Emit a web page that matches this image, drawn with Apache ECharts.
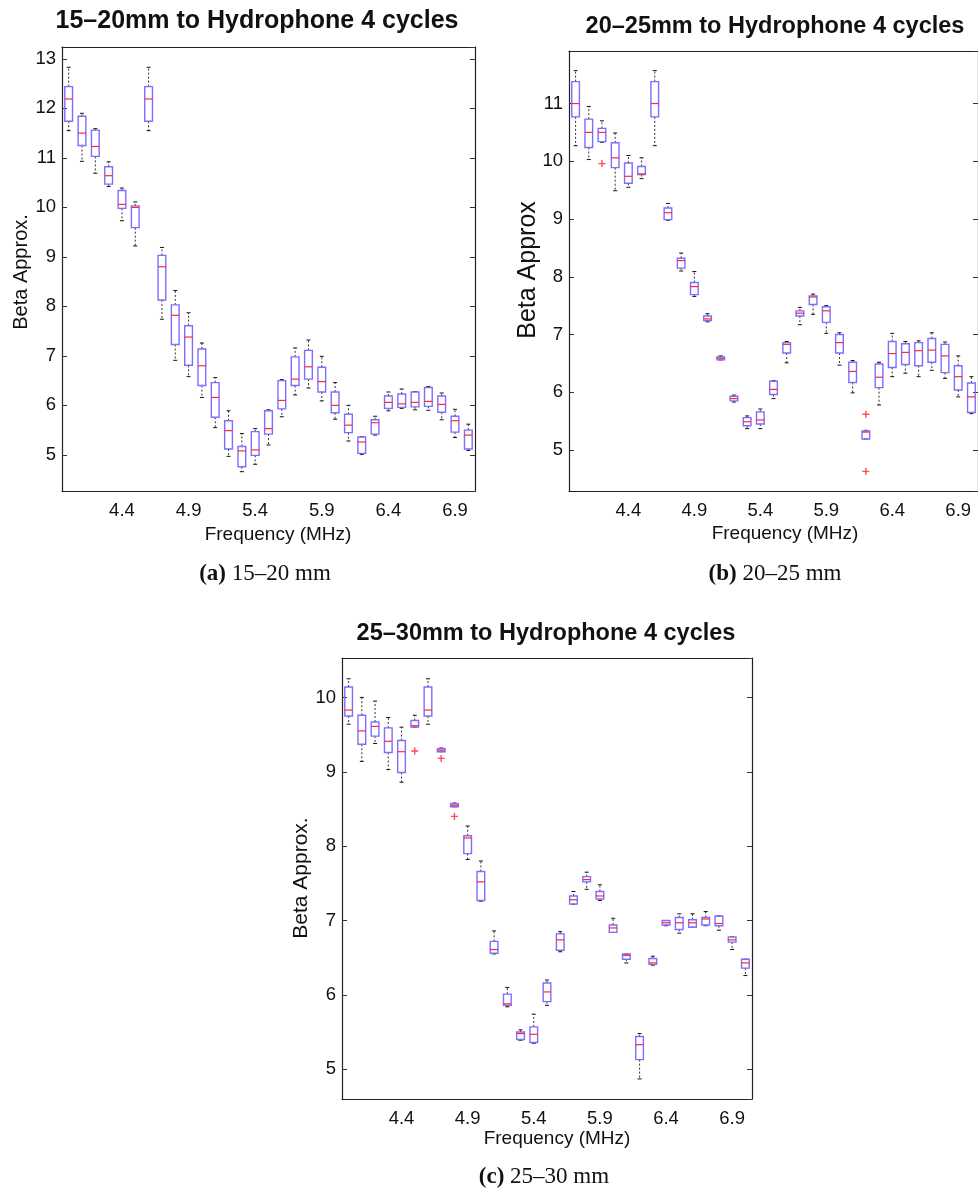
<!DOCTYPE html>
<html>
<head>
<meta charset="utf-8">
<script src="https://cdn.jsdelivr.net/npm/echarts@6/dist/echarts.min.js"></script>
<style>
  html, body { margin: 0; padding: 0; background: #fff; }
  #chart { width: 978px; height: 1189px; }
</style>
</head>
<body>
<div id="chart"></div>
<script>
const freqs = ['4.0', '4.1', '4.2', '4.3', '4.4', '4.5', '4.6', '4.7', '4.8', '4.9',
  '5.0', '5.1', '5.2', '5.3', '5.4', '5.5', '5.6', '5.7', '5.8', '5.9',
  '6.0', '6.1', '6.2', '6.3', '6.4', '6.5', '6.6', '6.7', '6.8', '6.9', '7.0']
const tickFreqs = ['4.4', '4.9', '5.4', '5.9', '6.4', '6.9']

// each box: [min, q1, median, q3, max]
const boxes15to20 = [
  [11.55, 11.74, 12.19, 12.44, 12.83], [10.93, 11.25, 11.50, 11.84, 11.90], [10.69, 11.03, 11.23, 11.56, 11.59],
  [10.42, 10.47, 10.64, 10.82, 10.92], [9.73, 9.98, 10.06, 10.34, 10.39], [9.22, 9.59, 10.00, 10.03, 10.11],
  [11.55, 11.74, 12.19, 12.44, 12.83], [7.74, 8.13, 8.80, 9.03, 9.19], [6.91, 7.23, 7.82, 8.03, 8.32],
  [6.58, 6.81, 7.38, 7.61, 7.87], [6.16, 6.40, 6.80, 7.14, 7.26], [5.55, 5.76, 6.16, 6.46, 6.56],
  [4.97, 5.12, 5.49, 5.69, 5.89], [4.66, 4.76, 5.08, 5.17, 5.43], [4.81, 4.99, 5.10, 5.47, 5.53],
  [5.20, 5.42, 5.53, 5.89, 5.91], [5.77, 5.93, 6.10, 6.50, 6.52], [6.21, 6.40, 6.53, 6.98, 7.16],
  [6.35, 6.53, 6.78, 7.11, 7.32], [6.09, 6.27, 6.48, 6.77, 6.99], [5.72, 5.85, 6.00, 6.27, 6.46],
  [5.28, 5.45, 5.60, 5.82, 6.00], [5.01, 5.03, 5.26, 5.36, 5.37], [5.40, 5.42, 5.65, 5.71, 5.78],
  [5.89, 5.94, 6.06, 6.19, 6.27], [5.94, 5.96, 6.03, 6.23, 6.33], [5.91, 5.97, 6.06, 6.27, 6.28],
  [5.90, 5.98, 6.08, 6.36, 6.38], [5.71, 5.86, 6.02, 6.19, 6.25], [5.35, 5.46, 5.69, 5.78, 5.92],
  [5.09, 5.12, 5.40, 5.50, 5.62]
]
const outliers15to20 = []

const boxes20to25 = [
  [10.27, 10.77, 11.00, 11.38, 11.57], [10.03, 10.24, 10.50, 10.73, 10.95], [10.33, 10.34, 10.50, 10.57, 10.70],
  [9.49, 9.89, 10.06, 10.32, 10.49], [9.55, 9.62, 9.74, 9.97, 10.10], [9.70, 9.77, 9.78, 9.91, 10.06],
  [10.27, 10.77, 11.00, 11.38, 11.57], [8.98, 8.99, 9.11, 9.19, 9.27], [8.10, 8.15, 8.28, 8.32, 8.41],
  [7.66, 7.69, 7.83, 7.90, 8.09], [7.22, 7.24, 7.27, 7.32, 7.36], [6.56, 6.56, 6.59, 6.61, 6.63],
  [5.83, 5.85, 5.89, 5.93, 5.95], [5.37, 5.42, 5.49, 5.56, 5.59], [5.37, 5.45, 5.52, 5.66, 5.71],
  [5.89, 5.96, 6.05, 6.19, 6.20], [6.51, 6.68, 6.83, 6.86, 6.88], [7.17, 7.32, 7.37, 7.41, 7.47],
  [7.35, 7.52, 7.65, 7.67, 7.70], [7.02, 7.21, 7.41, 7.48, 7.50], [6.47, 6.68, 6.86, 7.00, 7.03],
  [5.99, 6.17, 6.36, 6.52, 6.55], [5.19, 5.19, 5.31, 5.33, 5.34], [5.78, 6.08, 6.26, 6.49, 6.52],
  [6.27, 6.43, 6.67, 6.88, 7.02], [6.33, 6.48, 6.69, 6.84, 6.88], [6.27, 6.46, 6.72, 6.86, 6.89],
  [6.38, 6.52, 6.73, 6.93, 7.03], [6.24, 6.34, 6.63, 6.83, 6.87], [5.92, 6.04, 6.27, 6.46, 6.63],
  [5.63, 5.65, 5.92, 6.16, 6.27]
]
const outliers20to25 = [['4.2', 9.96], ['6.2', 5.62], ['6.2', 4.63]]

const boxes25to30 = [
  [9.64, 9.75, 9.83, 10.14, 10.25], [9.14, 9.37, 9.55, 9.76, 10.00], [9.38, 9.48, 9.61, 9.67, 9.95],
  [9.03, 9.26, 9.41, 9.59, 9.73], [8.86, 8.99, 9.27, 9.42, 9.60], [9.60, 9.60, 9.62, 9.69, 9.76],
  [9.64, 9.75, 9.83, 10.14, 10.25], [9.27, 9.27, 9.29, 9.31, 9.32], [8.53, 8.53, 8.55, 8.57, 8.58],
  [7.82, 7.90, 8.11, 8.14, 8.27], [7.26, 7.27, 7.52, 7.66, 7.80], [6.55, 6.56, 6.61, 6.72, 6.86],
  [5.84, 5.86, 5.88, 6.01, 6.10], [5.39, 5.40, 5.48, 5.50, 5.53], [5.35, 5.36, 5.47, 5.57, 5.74],
  [5.86, 5.91, 6.04, 6.16, 6.20], [6.58, 6.60, 6.74, 6.82, 6.85], [7.22, 7.22, 7.28, 7.33, 7.39],
  [7.42, 7.52, 7.55, 7.59, 7.65], [7.27, 7.29, 7.33, 7.39, 7.48], [6.84, 6.84, 6.90, 6.94, 7.03],
  [6.43, 6.48, 6.53, 6.55, 6.55], [4.87, 5.13, 5.33, 5.44, 5.48], [6.40, 6.41, 6.43, 6.49, 6.52],
  [6.93, 6.94, 6.97, 7.00, 7.00], [6.83, 6.88, 6.97, 7.04, 7.09], [6.91, 6.91, 6.97, 7.01, 7.09],
  [6.93, 6.94, 7.02, 7.04, 7.12], [6.87, 6.93, 6.96, 7.06, 7.06], [6.61, 6.71, 6.74, 6.78, 6.78],
  [6.26, 6.36, 6.43, 6.48, 6.48]
]
const outliers25to30 = [['4.5', 9.28], ['4.7', 9.18], ['4.8', 8.40]]

const sans = 'Liberation Sans'
const serif = 'Liberation Serif'

const panels = [
  { boxes: boxes15to20, outliers: outliers15to20, grid: { left: 62, top: 47, width: 413, height: 444 }, yMin: 4.27, yMax: 13.24, split: 9 },
  { boxes: boxes20to25, outliers: outliers20to25, grid: { left: 569, top: 51, width: 410, height: 440 }, yMin: 4.29, yMax: 11.91, split: 8 },
  { boxes: boxes25to30, outliers: outliers25to30, grid: { left: 342, top: 658, width: 410, height: 441 }, yMin: 4.6, yMax: 10.53, split: 6 }
]

const showTick = (idx, value) => tickFreqs.indexOf(value) >= 0
const frameLine = { lineStyle: { color: '#222', width: 1.2 } }
const innerTick = { inside: true, length: 5, lineStyle: { color: '#333' } }

function renderBox (params, api) {
  const i = api.value(0)
  const lo = api.coord([i, api.value(1)])
  const q1 = api.coord([i, api.value(2)])
  const med = api.coord([i, api.value(3)])
  const q3 = api.coord([i, api.value(4)])
  const hi = api.coord([i, api.value(5)])
  const half = api.size([1, 0])[0] * 0.29
  const x = lo[0]
  const dashed = { stroke: '#333', lineWidth: 1, lineDash: [2, 2] }
  const cap = { stroke: '#111', lineWidth: 1 }
  return {
    type: 'group',
    children: [
      { type: 'line', shape: { x1: x, y1: q3[1], x2: x, y2: hi[1] }, style: dashed },
      { type: 'line', shape: { x1: x, y1: q1[1], x2: x, y2: lo[1] }, style: dashed },
      { type: 'line', shape: { x1: x - 2, y1: hi[1], x2: x + 2, y2: hi[1] }, style: cap },
      { type: 'line', shape: { x1: x - 2, y1: lo[1], x2: x + 2, y2: lo[1] }, style: cap },
      {
        type: 'rect',
        shape: { x: x - half, y: q3[1], width: half * 2, height: Math.max(q1[1] - q3[1], 1) },
        style: { fill: 'none', stroke: '#7f6dff', lineWidth: 1.4 }
      },
      { type: 'line', shape: { x1: x - half, y1: med[1], x2: x + half, y2: med[1] }, style: { stroke: '#ff2b2b', lineWidth: 1.2 } }
    ]
  }
}

const grid = []
const xAxis = []
const yAxis = []
const series = []

panels.forEach((p, gi) => {
  grid.push(Object.assign({ containLabel: false }, p.grid))
  const xBase = {
    gridIndex: gi,
    type: 'category',
    data: freqs,
    boundaryGap: true,
    axisLine: frameLine,
    axisTick: Object.assign({ alignWithLabel: true, interval: showTick }, innerTick),
    splitLine: { show: false }
  }
  xAxis.push(Object.assign({}, xBase, {
    position: 'bottom',
    axisLabel: { interval: showTick, color: '#111', fontSize: 18.5, fontFamily: sans, margin: 10 }
  }))
  xAxis.push(Object.assign({}, xBase, { position: 'top', axisLabel: { show: false } }))
  const yBase = {
    gridIndex: gi,
    type: 'value',
    min: p.yMin,
    max: p.yMax,
    splitNumber: p.split,
    axisLine: Object.assign({ show: true }, frameLine),
    axisTick: Object.assign({ show: true }, innerTick),
    splitLine: { show: false }
  }
  yAxis.push(Object.assign({}, yBase, {
    position: 'left',
    axisLabel: { color: '#111', fontSize: 18.5, fontFamily: sans, margin: 6, showMinLabel: false, showMaxLabel: false }
  }))
  yAxis.push(Object.assign({}, yBase, { position: 'right', axisLabel: { show: false } }))

  series.push({
    type: 'custom',
    xAxisIndex: gi * 2,
    yAxisIndex: gi * 2,
    renderItem: renderBox,
    encode: { x: 0, y: [1, 2, 3, 4, 5] },
    data: p.boxes.map((b, i) => [i].concat(b)),
    silent: true
  })
  series.push({
    type: 'scatter',
    xAxisIndex: gi * 2,
    yAxisIndex: gi * 2,
    symbol: 'path://M4,0 L6,0 L6,4 L10,4 L10,6 L6,6 L6,10 L4,10 L4,6 L0,6 L0,4 L4,4 Z',
    symbolSize: 7,
    itemStyle: { color: '#ff2020' },
    data: p.outliers,
    silent: true
  })
})

function label (text, x, y, font, rotation) {
  return {
    type: 'text',
    x: x,
    y: y,
    rotation: rotation || 0,
    style: {
      text: text,
      font: font,
      fill: '#111',
      textAlign: 'center',
      textVerticalAlign: 'middle'
    }
  }
}

function caption (tag, text, x, y) {
  return {
    type: 'text',
    x: x,
    y: y,
    style: {
      text: '{b|' + tag + '} ' + text,
      font: '23px "' + serif + '"',
      fill: '#111',
      textAlign: 'center',
      textVerticalAlign: 'middle',
      rich: { b: { fontWeight: 'bold', fontSize: 23, fontFamily: serif } }
    }
  }
}

const graphic = [
  label('15–20mm to Hydrophone 4 cycles', 257, 21, 'bold 25px "' + sans + '"'),
  label('20–25mm to Hydrophone 4 cycles', 775, 27, 'bold 23.5px "' + sans + '"'),
  label('25–30mm to Hydrophone 4 cycles', 546, 634, 'bold 23.5px "' + sans + '"'),
  label('Beta Approx.', 21, 272, '20px "' + sans + '"', Math.PI / 2),
  label('Beta Approx', 528, 270, '25px "' + sans + '"', Math.PI / 2),
  label('Beta Approx.', 301, 878, '21px "' + sans + '"', Math.PI / 2),
  label('Frequency (MHz)', 278, 535, '19px "' + sans + '"'),
  label('Frequency (MHz)', 785, 534, '19px "' + sans + '"'),
  label('Frequency (MHz)', 557, 1139, '19px "' + sans + '"'),
  caption('(a)', '15–20 mm', 265, 574),
  caption('(b)', '20–25 mm', 775, 574),
  caption('(c)', '25–30 mm', 544, 1177)
]

const chart = echarts.init(document.getElementById('chart'))
chart.setOption({
  animation: false,
  backgroundColor: '#fff',
  grid: grid,
  xAxis: xAxis,
  yAxis: yAxis,
  series: series,
  graphic: graphic
})
</script>
</body>
</html>
